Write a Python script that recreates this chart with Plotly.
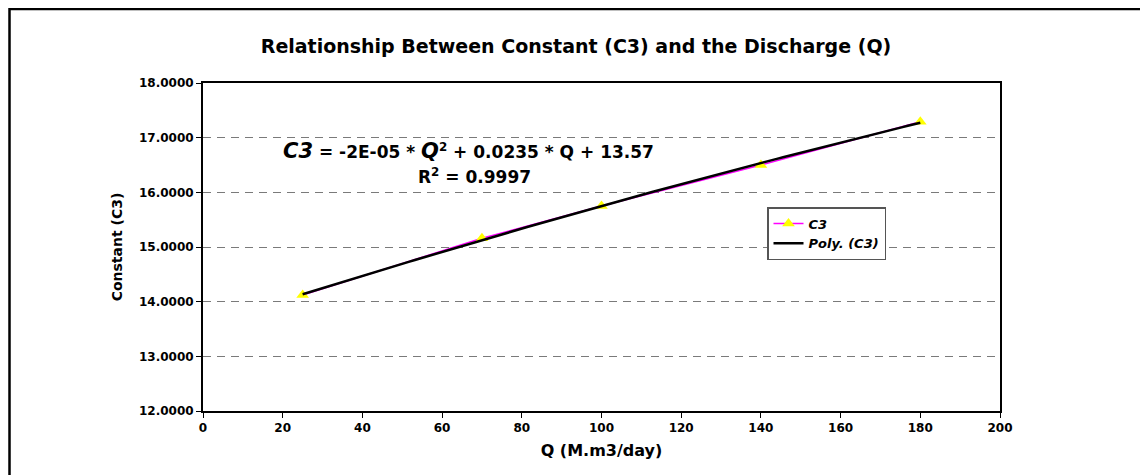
import numpy as np
import plotly.graph_objects as go

# Data
q_values = [25, 70, 100, 140, 180]
c3_values = [14.12, 15.16, 15.75, 16.50, 17.29]
x_ticks = [0, 20, 40, 60, 80, 100, 120, 140, 160, 180, 200]
y_ticks = [12, 13, 14, 15, 16, 17, 18]

W, H = 1148, 475
OFF = 8  # page body margin
# plot area in page pixels
PX0, PX1, PY0, PY1 = 203, 1000, 83, 411
L, T = PX0 - OFF, PY0 - OFF
pw, ph = PX1 - PX0, PY1 - PY0
R, B = W - L - pw, H - T - ph


def px(x):
    return (x - PX0) / pw


def py(y):
    return (PY1 - y) / ph


coef = np.polyfit(q_values, c3_values, 2)
q_fit = np.linspace(min(q_values), max(q_values), 100)
c_fit = np.polyval(coef, q_fit)

FONT = "DejaVu Sans, Verdana, sans-serif"

fig = go.Figure()
fig.add_trace(go.Scatter(
    x=q_values, y=c3_values, mode="lines+markers", name="<b><i>C3</i></b>",
    line=dict(color="#ff00ff", width=1.5),
    marker=dict(symbol="triangle-up", color="#ffff00", size=11, line=dict(width=0)),
))
fig.add_trace(go.Scatter(
    x=q_fit, y=c_fit, mode="lines", name="<b><i>Poly. (C3)</i></b>",
    line=dict(color="black", width=2.5),
))

fig.update_layout(
    width=W, height=H,
    margin=dict(l=L, r=R, t=T, b=B),
    paper_bgcolor="white", plot_bgcolor="white",
    font=dict(family=FONT, color="black", size=12),
    title=dict(text="<b>Relationship Between Constant (C3) and the Discharge (Q)</b>",
               x=(576 - OFF) / W, xref="container", xanchor="center",
               y=1 - (46 - OFF) / H, yref="container", yanchor="middle",
               font=dict(size=19, family=FONT)),
    showlegend=True,
    legend=dict(x=px(767), y=py(207), xanchor="left", yanchor="top",
                bgcolor="white", bordercolor="#555555", borderwidth=1.5,
                font=dict(size=13, family=FONT), tracegroupgap=0,
                itemwidth=30),
    xaxis=dict(range=[0, 200], tickvals=x_ticks, ticks="outside", ticklen=5,
               tickcolor="black", showline=True, linecolor="black", linewidth=2,
               mirror=True, showgrid=False, zeroline=False,
               tickfont=dict(size=12, family=FONT),
               ticktext=[f"<b>{v}</b>" for v in x_ticks], tickmode="array",
               title=dict(text="<b>Q (M.m3/day)</b>", font=dict(size=16), standoff=10)),
    yaxis=dict(range=[12, 18], tickvals=y_ticks, tickmode="array",
               ticktext=[f"<b>{v:.4f}</b>" for v in y_ticks],
               ticks="outside", ticklen=5, tickcolor="black",
               showline=True, linecolor="black", linewidth=2, mirror=True,
               showgrid=True, gridcolor="#7a7a7a", griddash="8px,6px", gridwidth=1.3,
               zeroline=False, tickfont=dict(size=12, family=FONT),
               title=dict(text="<b>Constant (C3)</b>", font=dict(size=14), standoff=13)),
)

eq = ("<b><i><span style='font-size:21px'>C3</span></i> = -2E-05 * "
      "<i><span style='font-size:21px'>Q</span></i><sup>2</sup> + 0.0235 * Q + 13.57</b>")
fig.add_annotation(text=eq, x=px(468), y=py(151), xref="paper", yref="paper",
                   showarrow=False, xanchor="center", yanchor="middle",
                   font=dict(size=17, family=FONT))
fig.add_annotation(text="<b>R<sup>2</sup> = 0.9997</b>", x=px(474), y=py(176),
                   xref="paper", yref="paper", showarrow=False,
                   xanchor="center", yanchor="middle", font=dict(size=17, family=FONT))

# outer chart frame
fig.add_shape(type="rect", xref="paper", yref="paper",
              x0=px(9.5), x1=px(1142), y0=py(500), y1=py(9),
              line=dict(color="black", width=2.5), layer="below")

fig.write_html("out.html")
